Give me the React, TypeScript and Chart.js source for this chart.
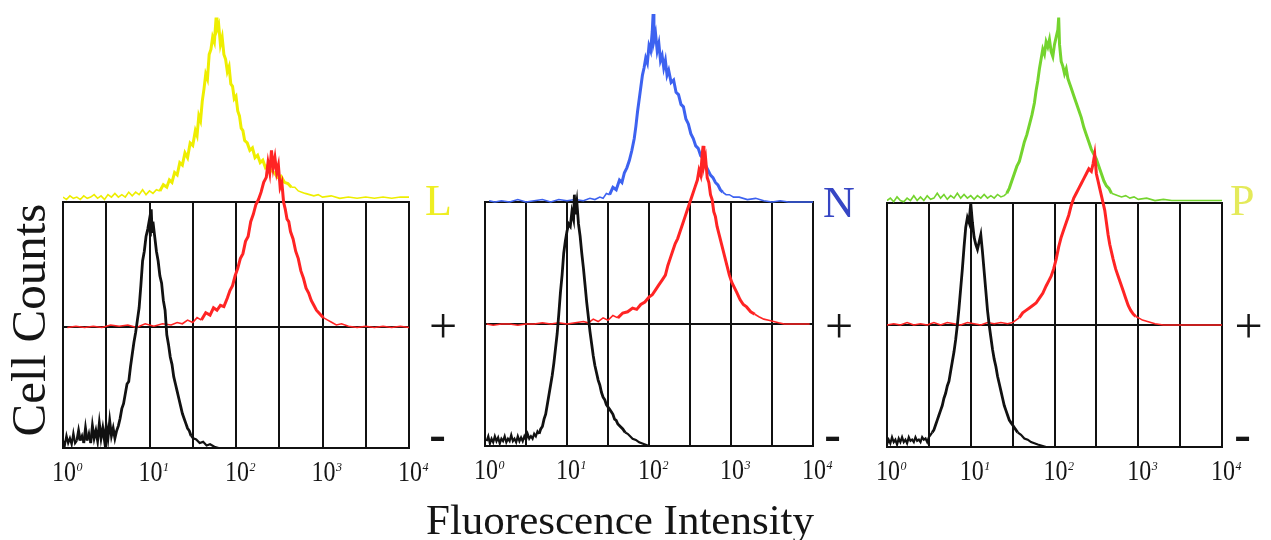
import { useEffect, useRef } from "react";
import { Chart, registerables } from "chart.js";

Chart.register(...registerables);

type Pt = [number, number];

// ---- data (x = log10 fluorescence channel, y = cell counts, box spans 0..100) ----
const DECADES = [0, 1, 2, 3, 4];
const GRID_DIVISIONS = [0, 0.5, 1, 1.5, 2, 2.5, 3, 3.5, 4];
const PANEL_LABELS = ["L", "N", "P"];
const SIGN_LABELS = ["+", "-"];
const Y_TITLE = "Cell Counts";
const X_TITLE = "Fluorescence Intensity";
const MID_LEVELS = [49, 50, 50];
const TOP_LEVELS = [102, 100, 101];
const BOX_TOP_LEVEL = 100;

const L_TOP: Pt[] = [[0,102],[0.04,101],[0.08,102.5],[0.12,101.5],[0.16,102],[0.2,101],[0.24,102.5],[0.28,101.5],[0.32,102],[0.36,103],[0.4,101.5],[0.44,102.5],[0.48,101],[0.52,103],[0.56,102],[0.6,103.5],[0.64,102],[0.68,103],[0.72,102],[0.76,104],[0.8,102.5],[0.84,104],[0.88,103],[0.92,105],[0.96,103],[1.0,104.5],[1.04,103.5],[1.08,105],[1.12,104.5],[1.16,107],[1.2,106],[1.23,109],[1.26,108],[1.29,112],[1.32,111],[1.35,116],[1.38,115],[1.41,120],[1.44,118],[1.47,124],[1.5,123],[1.53,129],[1.55,127],[1.57,135],[1.59,133],[1.61,141],[1.63,146],[1.65,152],[1.67,150],[1.69,160],[1.71,162],[1.73,167],[1.75,165],[1.77,175],[1.78,170],[1.8,172],[1.82,164],[1.84,167],[1.86,160],[1.88,158],[1.9,153],[1.92,155],[1.94,148],[1.96,147],[1.98,142],[2.0,143],[2.02,137],[2.04,135],[2.06,130],[2.08,129],[2.1,125],[2.13,124],[2.16,121],[2.19,122],[2.22,118],[2.25,119],[2.28,116],[2.31,117],[2.34,114],[2.37,115],[2.4,113],[2.44,112],[2.48,110],[2.52,110.5],[2.56,108],[2.6,107.5],[2.64,106],[2.68,106],[2.72,104.5],[2.76,104],[2.8,103.5],[2.85,103],[2.9,102.5],[2.95,103],[3.0,102],[3.1,102.5],[3.2,101.5],[3.3,102],[3.4,101.5],[3.5,102],[3.6,101.5],[3.7,102],[3.8,101.5],[3.9,102],[4.0,102]];
const L_RED: Pt[] = [[0.05,49],[0.15,49.5],[0.25,49],[0.35,49.5],[0.45,49],[0.55,50],[0.65,49.5],[0.75,50],[0.85,49],[0.95,50.5],[1.05,49.5],[1.15,50.5],[1.25,50],[1.32,51],[1.38,50.5],[1.44,52],[1.5,51],[1.55,53],[1.6,52],[1.65,55],[1.7,54],[1.74,57],[1.78,56],[1.82,58],[1.86,57.5],[1.9,61],[1.93,64],[1.96,66],[1.99,70],[2.02,73],[2.05,77],[2.08,79],[2.11,84],[2.14,86],[2.17,92],[2.2,95],[2.23,99],[2.26,101],[2.29,104],[2.32,108],[2.35,110],[2.37,116],[2.39,112],[2.41,121],[2.43,114],[2.45,118],[2.47,112],[2.49,115],[2.51,106],[2.53,108],[2.55,100],[2.57,97],[2.59,93],[2.61,92],[2.63,88],[2.66,85],[2.69,80],[2.72,77],[2.75,72],[2.78,69],[2.81,65],[2.84,63],[2.87,60],[2.9,58],[2.93,56],[2.97,54.5],[3.01,53],[3.06,52],[3.11,51],[3.16,50],[3.22,50.5],[3.3,49.5],[3.4,49],[3.5,49.5],[3.6,49],[3.7,49.5],[3.8,49],[3.9,49.5],[4.0,49]];
const L_BLACK: Pt[] = [[0,3],[0.02,1],[0.04,5],[0.06,2],[0.08,4],[0.1,1.5],[0.12,6],[0.14,2],[0.16,3],[0.18,7],[0.2,3],[0.22,5],[0.24,2],[0.26,8],[0.28,3],[0.3,6],[0.32,2],[0.34,9],[0.36,4],[0.38,7],[0.4,3],[0.42,10],[0.44,4],[0.46,8],[0.48,3],[0.5,9],[0.52,4],[0.54,11],[0.56,5],[0.58,8],[0.6,4],[0.62,7],[0.64,9],[0.66,12],[0.68,16],[0.7,18],[0.72,22],[0.74,26],[0.76,27],[0.78,33],[0.8,38],[0.82,43],[0.84,47],[0.86,52],[0.88,57],[0.9,66],[0.92,76],[0.94,80],[0.96,86],[0.98,89],[1.0,93],[1.01,86],[1.02,97],[1.03,88],[1.04,92],[1.06,86],[1.08,80],[1.1,76],[1.12,70],[1.14,67],[1.16,60],[1.18,56],[1.2,46],[1.22,42],[1.24,37],[1.26,34],[1.28,29],[1.3,26],[1.32,23],[1.34,20],[1.36,17],[1.38,14],[1.4,12],[1.42,10],[1.44,8],[1.46,7],[1.48,5],[1.5,4],[1.54,3.5],[1.58,2],[1.62,2.5],[1.66,1],[1.7,1.5],[1.75,0.5],[1.8,0]];

const N_TOP: Pt[] = [[0.05,100.5],[0.12,100],[0.2,100.5],[0.3,100],[0.4,101],[0.5,100],[0.6,100.5],[0.7,101],[0.8,100],[0.9,101],[1.0,100.5],[1.1,101],[1.2,100.5],[1.28,101.5],[1.34,101],[1.4,102],[1.44,101.5],[1.48,103.5],[1.52,103],[1.56,106],[1.6,105],[1.64,109],[1.67,108],[1.7,112],[1.73,114],[1.76,117],[1.79,121],[1.82,126],[1.84,131],[1.86,137],[1.88,142],[1.9,147],[1.92,152],[1.94,155],[1.96,159],[1.98,157],[2.0,164],[2.02,162],[2.04,170],[2.05,177],[2.06,166],[2.08,169],[2.1,162],[2.12,165],[2.14,158],[2.16,160],[2.18,155],[2.2,158],[2.22,152],[2.24,154],[2.27,149],[2.3,150],[2.33,145],[2.36,144],[2.39,140],[2.42,139],[2.45,134],[2.48,132],[2.51,128],[2.54,126],[2.57,123],[2.6,122],[2.63,119],[2.66,118],[2.69,115],[2.72,113],[2.75,111],[2.78,110],[2.81,108],[2.84,107],[2.87,105],[2.9,104],[2.94,103],[2.98,103],[3.03,102],[3.1,102],[3.2,101],[3.3,101.5],[3.4,100.5],[3.5,100],[3.6,100.5],[3.7,100],[3.8,100],[3.9,100],[4.0,100]];
const N_RED: Pt[] = [[0.02,50],[0.1,49.5],[0.2,50],[0.3,50],[0.4,49.5],[0.5,50],[0.6,50],[0.7,50.5],[0.8,50],[0.9,50.5],[1.0,50],[1.1,50.5],[1.2,51],[1.26,50.5],[1.32,52],[1.38,51],[1.44,52.5],[1.5,51.5],[1.56,53.5],[1.62,52.5],[1.68,54.5],[1.74,55],[1.8,56.5],[1.85,56],[1.9,58],[1.95,59],[2.0,61],[2.04,62],[2.08,64],[2.12,66],[2.16,68],[2.2,70],[2.23,74],[2.26,77],[2.29,80],[2.32,83],[2.35,85],[2.38,88],[2.41,91],[2.44,94],[2.47,97],[2.5,100],[2.53,103],[2.56,106],[2.59,109],[2.61,113],[2.63,111],[2.65,120],[2.66,123],[2.67,115],[2.69,118],[2.71,110],[2.73,108],[2.75,103],[2.77,101],[2.79,96],[2.81,94],[2.83,90],[2.86,86],[2.89,82],[2.92,78],[2.95,74],[2.98,70],[3.01,67],[3.04,65],[3.07,63],[3.11,60],[3.15,58],[3.19,57],[3.24,55],[3.29,54],[3.34,53],[3.4,52],[3.46,51.5],[3.52,51],[3.58,50.5],[3.65,50],[3.75,50],[3.85,50],[3.96,50]];
const N_BLACK: Pt[] = [[0.02,2],[0.04,4],[0.06,1],[0.08,3],[0.1,1.5],[0.12,4],[0.14,2],[0.16,3.5],[0.18,1],[0.2,3],[0.22,2],[0.24,4],[0.26,1.5],[0.28,3],[0.3,2],[0.32,4.5],[0.34,2],[0.36,3],[0.38,1.5],[0.4,4],[0.42,2],[0.44,3.5],[0.46,2],[0.48,4],[0.5,2.5],[0.52,5],[0.54,3],[0.56,4],[0.58,3],[0.6,5],[0.62,4],[0.64,6],[0.66,5],[0.68,7],[0.7,8],[0.72,11],[0.74,13],[0.76,17],[0.78,21],[0.8,25],[0.82,29],[0.84,34],[0.86,40],[0.88,46],[0.9,54],[0.92,63],[0.94,70],[0.96,79],[0.98,84],[1.0,88],[1.02,91],[1.04,90],[1.06,96],[1.08,93],[1.09,103],[1.1,95],[1.12,100],[1.14,91],[1.16,86],[1.18,79],[1.2,73],[1.22,66],[1.24,59],[1.26,53],[1.28,47],[1.3,42],[1.32,37],[1.34,33],[1.36,30],[1.38,27],[1.4,25],[1.42,22],[1.44,20],[1.46,19],[1.48,17],[1.5,16],[1.52,15],[1.54,14],[1.56,13],[1.58,11],[1.6,10.5],[1.62,9],[1.65,8],[1.68,7],[1.71,5.5],[1.74,5],[1.77,4],[1.8,3],[1.84,2.5],[1.88,1.5],[1.92,1],[1.96,0.5],[2.0,0]];

const P_TOP: Pt[] = [[0,101],[0.04,102],[0.08,100.5],[0.12,102.5],[0.16,101],[0.2,100.5],[0.24,102],[0.28,101],[0.32,103],[0.36,101],[0.4,102.5],[0.44,101],[0.48,103],[0.52,101.5],[0.56,102],[0.6,104],[0.64,102],[0.68,103.5],[0.72,101.5],[0.76,103],[0.8,102],[0.84,104],[0.88,102],[0.92,103.5],[0.96,102],[1.0,103],[1.04,101.5],[1.08,103],[1.12,102],[1.16,103.5],[1.2,102],[1.24,103],[1.28,102],[1.32,103.5],[1.36,102.5],[1.4,103],[1.43,104],[1.46,106],[1.49,109],[1.52,112],[1.55,115],[1.58,117],[1.61,121],[1.64,125],[1.67,128],[1.7,132],[1.73,136],[1.76,141],[1.78,146],[1.8,150],[1.82,155],[1.84,159],[1.86,163],[1.88,161],[1.9,166],[1.92,164],[1.94,167],[1.96,162],[1.98,160],[2.0,165],[2.02,168],[2.04,171],[2.05,176],[2.06,165],[2.08,158],[2.1,156],[2.12,153],[2.14,155],[2.16,151],[2.18,149],[2.2,147],[2.23,144],[2.26,141],[2.29,138],[2.32,135],[2.35,131],[2.38,128],[2.41,125],[2.44,122],[2.47,120],[2.5,118],[2.53,115],[2.56,112],[2.59,109],[2.62,107],[2.65,106],[2.68,104],[2.72,103.5],[2.76,103],[2.8,102.5],[2.85,103],[2.9,102],[2.95,102.5],[3.0,101.5],[3.1,102],[3.2,101],[3.3,101.5],[3.4,101],[3.5,101],[3.6,101],[3.7,101],[3.8,101],[3.9,101],[4.0,101]];
const P_RED: Pt[] = [[0,50],[0.08,50.5],[0.16,50],[0.24,51],[0.32,50],[0.4,50.5],[0.48,50],[0.56,51],[0.64,50],[0.72,51],[0.8,50.5],[0.88,50],[0.96,51],[1.04,50.5],[1.12,50],[1.2,51],[1.28,50.5],[1.36,51],[1.44,50.5],[1.5,51],[1.54,52],[1.58,53],[1.62,55],[1.66,56],[1.7,57],[1.74,58],[1.78,59],[1.82,61],[1.86,63],[1.9,66],[1.93,68],[1.96,70],[1.99,73],[2.02,77],[2.05,82],[2.08,86],[2.11,89],[2.14,92],[2.17,95],[2.2,99],[2.23,102],[2.26,104],[2.29,106],[2.32,108],[2.35,110],[2.38,112],[2.41,114],[2.44,113],[2.46,116],[2.48,120],[2.5,112],[2.52,109],[2.54,106],[2.56,103],[2.58,100],[2.6,97],[2.62,92],[2.64,87],[2.66,83],[2.68,80],[2.7,77],[2.73,73],[2.76,70],[2.79,67],[2.82,64],[2.85,61],[2.88,58],[2.91,56],[2.94,54.5],[2.97,53.5],[3.0,53],[3.05,52],[3.1,51.5],[3.15,51],[3.2,50.5],[3.3,50],[3.4,50],[3.5,50],[3.6,50],[3.7,50],[3.8,50],[3.9,50],[4.0,50]];
const P_BLACK: Pt[] = [[0,1],[0.02,3],[0.04,1.5],[0.06,4],[0.08,2],[0.1,3],[0.12,1],[0.14,3.5],[0.16,2],[0.18,4],[0.2,2],[0.22,3],[0.24,1.5],[0.26,4],[0.28,2.5],[0.3,3],[0.32,2],[0.34,4],[0.36,2.5],[0.38,3],[0.4,2],[0.42,4],[0.44,3],[0.46,3.5],[0.48,2],[0.5,4],[0.52,5],[0.54,6],[0.56,7],[0.58,9],[0.6,11],[0.62,13],[0.64,15],[0.66,17],[0.68,20],[0.7,22],[0.72,25],[0.74,27],[0.76,31],[0.78,35],[0.8,39],[0.82,44],[0.84,50],[0.86,57],[0.88,65],[0.9,73],[0.92,82],[0.94,90],[0.96,94],[0.98,92],[1.0,100],[1.02,92],[1.04,86],[1.06,83],[1.08,81],[1.1,84],[1.12,87],[1.14,80],[1.16,72],[1.18,64],[1.2,56],[1.22,50],[1.24,45],[1.26,40],[1.28,36],[1.3,33],[1.32,29],[1.34,26],[1.36,23],[1.38,20],[1.4,17],[1.42,15],[1.44,13],[1.46,11],[1.48,10],[1.5,9],[1.53,7.5],[1.56,6],[1.6,5],[1.64,3.5],[1.68,3],[1.72,2],[1.76,1.5],[1.8,1],[1.85,0.5],[1.9,0]];

const SERIES: Pt[][][] = [
  [L_BLACK, L_RED, L_TOP],
  [N_BLACK, N_RED, N_TOP],
  [P_BLACK, P_RED, P_TOP],
];

// ---- layout & styles ----
const W = 1271;
const H = 540;
const Y_MAX = 180;
const SERIF = '"Liberation Serif", "Times New Roman", serif';

const LAYOUT = [
  { left: 63, right: 409, top: 202, bottom: 448, top3: "#eeee00", label: "#eeee22", labelX: 425, labelBase: 215, plusX: 443, minusX: 437.5 },
  { left: 485, right: 813, top: 202, bottom: 446, top3: "#3d62f0", label: "#3646c4", labelX: 823, labelBase: 217, plusX: 839, minusX: 832.5 },
  { left: 887, right: 1222, top: 203, bottom: 447, top3: "#74d42e", label: "#e4ea5a", labelX: 1230, labelBase: 215, plusX: 1248.5, minusX: 1242.5 },
];
const CURVE_COLORS = ["#111111", "#ff2424"];

function makePlugin(idx: number) {
  const lay = LAYOUT[idx];
  return {
    id: "frame" + idx,
    beforeDatasetsDraw(chart: any) {
      const { ctx } = chart;
      const x = chart.scales.x;
      const y = chart.scales.y;
      const y0 = Math.round(y.getPixelForValue(0));
      const y1 = Math.round(y.getPixelForValue(BOX_TOP_LEVEL));
      const ym = Math.round(y.getPixelForValue(MID_LEVELS[idx]));
      const x0 = x.getPixelForValue(GRID_DIVISIONS[0]);
      const x1 = x.getPixelForValue(GRID_DIVISIONS[GRID_DIVISIONS.length - 1]);
      ctx.save();
      ctx.strokeStyle = "#111";
      ctx.lineWidth = 2;
      ctx.lineCap = "square";
      ctx.beginPath();
      GRID_DIVISIONS.forEach((g) => {
        const px = Math.round(x.getPixelForValue(g));
        ctx.moveTo(px, y0);
        ctx.lineTo(px, y1);
      });
      [y0, y1, ym].forEach((py) => {
        ctx.moveTo(x0, py);
        ctx.lineTo(x1, py);
      });
      ctx.stroke();
      ctx.restore();
    },
    afterDraw(chart: any) {
      const { ctx } = chart;
      const x = chart.scales.x;
      const bottom = chart.chartArea.bottom;
      ctx.save();
      ctx.fillStyle = "#151515";
      ctx.textBaseline = "alphabetic";
      DECADES.forEach((d) => {
        const px = x.getPixelForValue(d) + 1;
        ctx.save();
        ctx.font = `30px ${SERIF}`;
        ctx.textAlign = "center";
        ctx.translate(px, bottom + 33);
        ctx.scale(0.8, 1);
        ctx.fillText("10", 0, 0);
        const w = ctx.measureText("10").width * 0.8;
        ctx.restore();
        ctx.font = `italic 12px ${SERIF}`;
        ctx.textAlign = "left";
        ctx.fillText(String(d), px + w / 2 + 0.5, bottom + 23);
      });
      ctx.textAlign = "left";
      ctx.font = `44px ${SERIF}`;
      ctx.fillStyle = lay.label;
      ctx.fillText(PANEL_LABELS[idx], lay.labelX, lay.labelBase);
      ctx.fillStyle = "#151515";
      ctx.textAlign = "center";
      ctx.font = `50px ${SERIF}`;
      ctx.fillText(SIGN_LABELS[0], lay.plusX, 342.5);
      ctx.font = `bold 50px ${SERIF}`;
      ctx.fillText(SIGN_LABELS[1], lay.minusX, 450.5);
      if (idx === 0) {
        ctx.save();
        ctx.font = `49px ${SERIF}`;
        ctx.translate(45, 320);
        ctx.rotate(-Math.PI / 2);
        ctx.textAlign = "center";
        ctx.fillText(Y_TITLE, 0, 0);
        ctx.restore();
      }
      if (idx === 1) {
        ctx.font = `43px ${SERIF}`;
        ctx.textAlign = "center";
        ctx.fillText(X_TITLE, 620, 534);
      }
      ctx.restore();
    },
  };
}

function Panel({ idx }: { idx: number }) {
  const ref = useRef<HTMLCanvasElement | null>(null);
  useEffect(() => {
    const lay = LAYOUT[idx];
    const ppu = (lay.bottom - lay.top) / BOX_TOP_LEVEL;
    const padTop = lay.bottom - Y_MAX * ppu;
    const colors = [CURVE_COLORS[0], CURVE_COLORS[1], lay.top3];
    const bases = [0, MID_LEVELS[idx], TOP_LEVELS[idx]];
    const chart = new Chart(ref.current as HTMLCanvasElement, {
      type: "line",
      data: {
        datasets: SERIES[idx].map((s, i) => ({
          data: s.map(([a, b]) => ({ x: a, y: b })),
          borderColor: colors[i],
          borderWidth: 2,
          borderJoinStyle: "miter",
          pointRadius: 0,
          tension: 0,
          fill: false,
          segment: {
            borderWidth: (c: any) => {
              const h = Math.max(c.p0.parsed.y, c.p1.parsed.y) - bases[i];
              if (i === 0) return h > 6 ? 2.8 : 2.2;
              return h > 4 ? 3 : 1.6;
            },
          },
        })),
      },
      options: {
        animation: false,
        responsive: false,
        devicePixelRatio: 1,
        events: [],
        layout: { padding: { left: lay.left, right: W - lay.right, top: padTop, bottom: H - lay.bottom } },
        plugins: { legend: { display: false }, tooltip: { enabled: false } },
        scales: {
          x: { type: "linear", min: 0, max: 4, display: false },
          y: { type: "linear", min: 0, max: Y_MAX, display: false },
        },
      },
      plugins: [makePlugin(idx)],
    } as any);
    return () => chart.destroy();
  }, [idx]);
  return (
    <canvas
      ref={ref}
      width={W}
      height={H}
      style={{ position: "absolute", left: 0, top: 0, width: W, height: H }}
    />
  );
}

export default function App() {
  return (
    <div style={{ position: "absolute", left: 0, top: 0, width: W, height: H, background: "#fff", overflow: "hidden" }}>
      {[0, 1, 2].map((i) => (
        <Panel key={i} idx={i} />
      ))}
    </div>
  );
}
